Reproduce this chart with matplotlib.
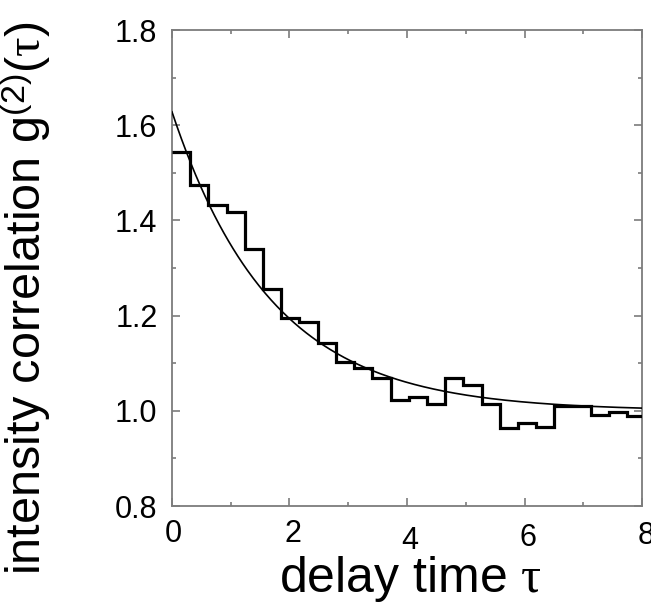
import matplotlib
matplotlib.use("Agg")
import matplotlib.pyplot as plt
import matplotlib.transforms as mtransforms
import numpy as np

plt.rcParams["font.family"] = ["Liberation Sans", "DejaVu Sans"]
plt.rcParams["mathtext.fontset"] = "custom"
plt.rcParams["mathtext.rm"] = "Liberation Sans"
plt.rcParams["mathtext.it"] = "Liberation Serif"
plt.rcParams["mathtext.bf"] = "Liberation Sans:bold"

# Measured correlation histogram (bin edges in delay units)
bin_edges = [0.00, 0.31, 0.62, 0.93, 1.24, 1.55, 1.86, 2.17, 2.48, 2.79,
             3.10, 3.41, 3.72, 4.03, 4.34, 4.65, 4.96, 5.27, 5.58, 5.89,
             6.20, 6.51, 6.82, 7.13, 7.44, 7.75, 8.06]
g2_measured = [1.544, 1.474, 1.432, 1.418, 1.339, 1.255, 1.194, 1.187,
               1.142, 1.103, 1.089, 1.068, 1.023, 1.030, 1.014, 1.068,
               1.054, 1.014, 0.963, 0.975, 0.967, 1.011, 1.011, 0.991,
               0.998, 0.989]

# Exponential fit parameters: g2(t) = baseline + amplitude * exp(-t / t_corr)
fit_baseline = 1.0
fit_amplitude = 0.628
fit_t_corr = 1.70

x_ticks = [0, 2, 4, 6, 8]
x_tick_labels = ["0", "2", "4", "6", "8"]
y_ticks = [0.8, 1.0, 1.2, 1.4, 1.6, 1.8]
y_tick_labels = ["0.8", "1.0", "1.2", "1.4", "1.6", "1.8"]

fig = plt.figure(figsize=(6.51, 6.11), dpi=100)
ax = fig.add_axes([0.2642, 0.1718, 0.7220, 0.7791])

ax.stairs(g2_measured, bin_edges, baseline=None, color="black",
          linewidth=2.3, zorder=3)

t_fit = np.linspace(0, 8, 400)
g2_fit = fit_baseline + fit_amplitude * np.exp(-t_fit / fit_t_corr)
ax.plot(t_fit, g2_fit, color="black", linewidth=1.2, zorder=4)

ax.set_xlim(0, 8)
ax.set_ylim(0.8, 1.8)
ax.set_xticks(x_ticks)
ax.set_xticklabels(x_tick_labels)
ax.set_yticks(y_ticks)
ax.set_yticklabels(y_tick_labels)
ax.set_xticks([1, 3, 5, 7], minor=True)
ax.set_yticks([0.9, 1.1, 1.3, 1.5, 1.7], minor=True)

spine_color = "#7c7c7c"
for s in ax.spines.values():
    s.set_color(spine_color)
    s.set_linewidth(1.3)

ax.tick_params(which="both", direction="in", top=True, right=True,
               color=spine_color, width=1.2, labelsize=22,
               labelcolor="black")
ax.tick_params(which="major", length=5.5)
ax.tick_params(which="minor", length=3)
ax.tick_params(axis="x", which="major", pad=9)
ax.tick_params(axis="y", which="major", pad=10.5)

# slight stagger of the x tick labels (offsets in pixels)
x_label_dx = [1, 3, 3, 3, 4]
x_label_dy = [0, 0, -7, -4, -2]
for lab, dx, dy in zip(ax.get_xticklabels(), x_label_dx, x_label_dy):
    lab.set_transform(lab.get_transform() +
                      mtransforms.ScaledTranslation(dx / 100, dy / 100,
                                                    fig.dpi_scale_trans))

fig.text(410 / 651, 19 / 611, r"delay time $\tau$", fontsize=36,
         ha="center", va="baseline")
fig.text(26 / 651, 0.512, r"intensity correlation g$^{(2)}$($\tau$)",
         fontsize=35, rotation=90, ha="center", va="center")

fig.savefig("out.png", dpi=100)
